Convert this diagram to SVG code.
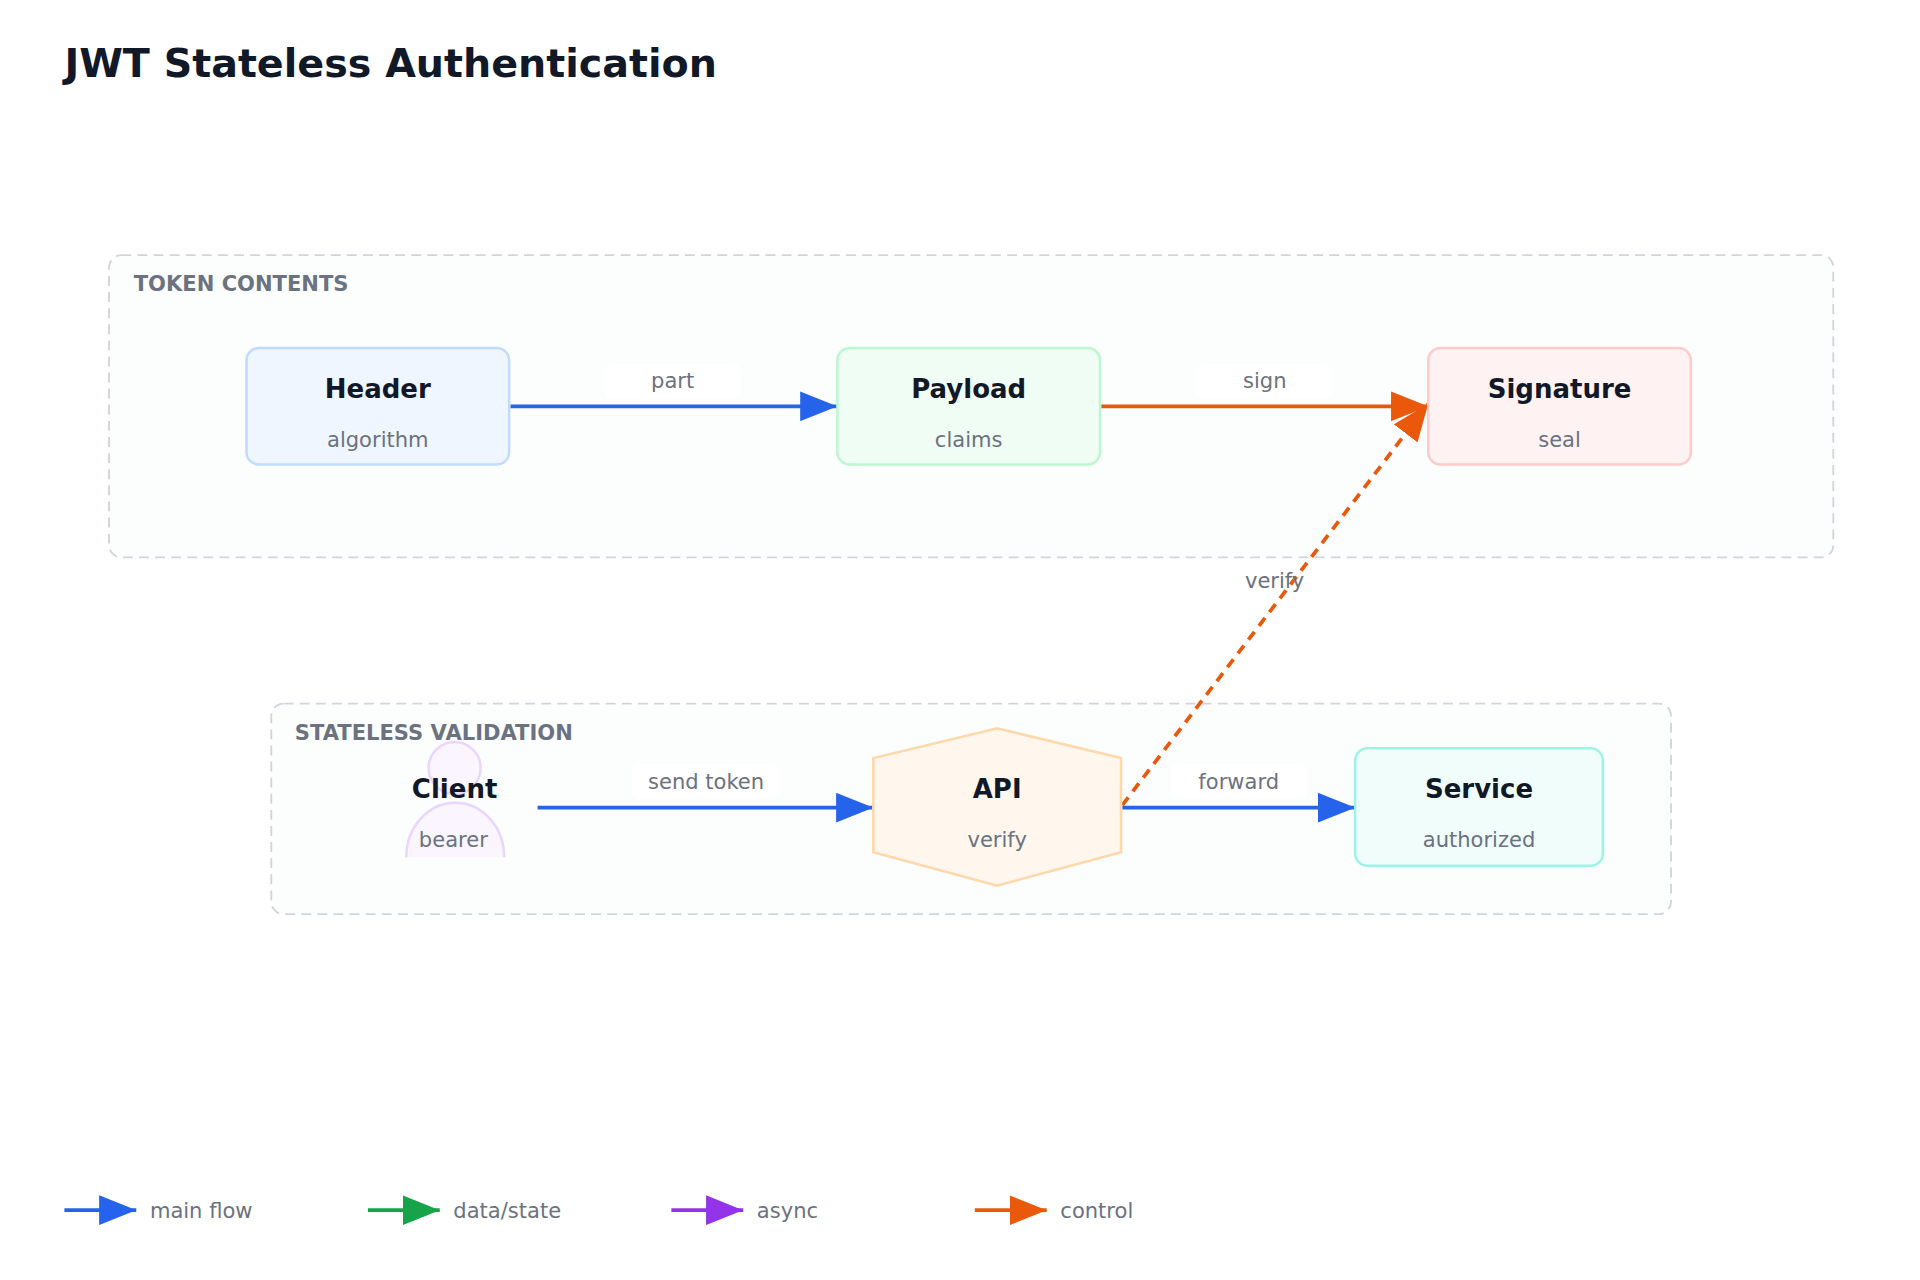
<svg xmlns="http://www.w3.org/2000/svg" width="1920" height="1280" viewBox="0 0 1920 1280">
<style>
text{font-family:"DejaVu Sans",sans-serif}
.t{font-size:21px;font-weight:bold;fill:#111827;text-anchor:middle}
.s{font-size:17px;fill:#6b7280;text-anchor:middle}
.gl{font-size:17px;font-weight:bold;fill:#6b7280}
.el{font-size:17px;fill:#6b7280;text-anchor:middle}
.grp{fill:#fcfdfd;stroke:#d1d5db;stroke-width:1.5;stroke-dasharray:8 5}
.lb{fill:#fff;opacity:0.9}
.blue{stroke:#2563eb;stroke-width:3;fill:none}
.or{stroke:#ea580c;stroke-width:3;fill:none}
</style>
<defs>
<marker id="ab" markerWidth="10" markerHeight="8" refX="10" refY="4" orient="auto" markerUnits="userSpaceOnUse" viewBox="0 0 10 8"><path d="M0,0L10,4L0,8z" fill="#2563eb"/></marker>
<marker id="ao" markerWidth="10" markerHeight="8" refX="10" refY="4" orient="auto" viewBox="0 0 10 8"><path d="M0,0L10,4L0,8z" fill="#ea580c"/></marker>
<marker id="ag" markerWidth="10" markerHeight="8" refX="10" refY="4" orient="auto" viewBox="0 0 10 8"><path d="M0,0L10,4L0,8z" fill="#16a34a"/></marker>
<marker id="ap" markerWidth="10" markerHeight="8" refX="10" refY="4" orient="auto" viewBox="0 0 10 8"><path d="M0,0L10,4L0,8z" fill="#9333ea"/></marker>
<marker id="abl" markerWidth="10" markerHeight="8" refX="10" refY="4" orient="auto" viewBox="0 0 10 8"><path d="M0,0L10,4L0,8z" fill="#2563eb"/></marker>
</defs>
<rect width="1920" height="1280" fill="#fff"/>
<g transform="scale(1.23871)">
<text x="52" y="62" style="font-size:32px;font-weight:bold;fill:#111827">JWT Stateless Authentication</text>
<g id="group-token"><rect class="grp" x="88" y="206" width="1392" height="244" rx="10"/><text class="gl" x="108" y="235">TOKEN CONTENTS</text></g>
<g id="group-validation"><rect class="grp" x="219" y="568" width="1130" height="170" rx="10"/><text class="gl" x="238" y="597">STATELESS VALIDATION</text></g>
<g id="connectors">
<path class="blue" d="M412,328H676" marker-end="url(#abl)"/>
<rect class="lb" x="488" y="294" width="110" height="28" rx="6"/><text class="el" x="543" y="313">part</text>
<path class="or" d="M889,328H1153" marker-end="url(#ao)"/>
<rect class="lb" x="965" y="294" width="110" height="28" rx="6"/><text class="el" x="1021" y="313">sign</text>
<path class="or" d="M906,650L1153,326" stroke-dasharray="8 6" marker-end="url(#ao)"/>
<text class="el" x="1029" y="475">verify</text>
<path class="blue" d="M434,652H705" marker-end="url(#abl)"/>
<rect class="lb" x="510" y="617" width="120" height="28" rx="6"/><text class="el" x="570" y="637">send token</text>
<path class="blue" d="M906,652H1094" marker-end="url(#abl)"/>
<rect class="lb" x="945" y="617" width="110" height="28" rx="6"/><text class="el" x="1000" y="637">forward</text>
</g>
<g id="node-header"><rect x="199" y="281" width="212" height="94" rx="10" fill="#eff6ff" stroke="#bfdbfe" stroke-width="2"/><text class="t" x="305" y="321">Header</text><text class="s" x="305" y="361">algorithm</text></g>
<g id="node-payload"><rect x="676" y="281" width="212" height="94" rx="10" fill="#f0fdf4" stroke="#bbf7d0" stroke-width="2"/><text class="t" x="782" y="321">Payload</text><text class="s" x="782" y="361">claims</text></g>
<g id="node-signature"><rect x="1153" y="281" width="212" height="94" rx="10" fill="#fef2f2" stroke="#fecaca" stroke-width="2"/><text class="t" x="1259" y="321">Signature</text><text class="s" x="1259" y="361">seal</text></g>
<g id="node-client"><circle cx="367" cy="620" r="21" fill="#faf5ff" stroke="#e9d5ff" stroke-width="2"/><path d="M328,692A39.5,44 0 0 1 407,692" fill="#faf5ff" stroke="#e9d5ff" stroke-width="2"/><text class="t" x="367" y="644">Client</text><text class="s" x="366" y="684">bearer</text></g>
<g id="node-api"><polygon points="705,612 805,588 905,612 905,688 805,715 705,688" fill="#fff7ed" stroke="#fed7aa" stroke-width="2"/><text class="t" x="805" y="644">API</text><text class="s" x="805" y="684">verify</text></g>
<g id="node-service"><rect x="1094" y="604" width="200" height="95" rx="10" fill="#f0fdfa" stroke="#99f6e4" stroke-width="2"/><text class="t" x="1194" y="644">Service</text><text class="s" x="1194" y="684">authorized</text></g>
<g id="legend">
<path d="M52,977H110" stroke="#2563eb" stroke-width="3" marker-end="url(#abl)"/><text x="121" y="983" style="font-size:17px;fill:#6b7280">main flow</text>
<path d="M297,977H355" stroke="#16a34a" stroke-width="3" marker-end="url(#ag)"/><text x="366" y="983" style="font-size:17px;fill:#6b7280">data/state</text>
<path d="M542,977H600" stroke="#9333ea" stroke-width="3" marker-end="url(#ap)"/><text x="611" y="983" style="font-size:17px;fill:#6b7280">async</text>
<path d="M787,977H845" stroke="#ea580c" stroke-width="3" marker-end="url(#ao)"/><text x="856" y="983" style="font-size:17px;fill:#6b7280">control</text>
</g>
</g>
</svg>
